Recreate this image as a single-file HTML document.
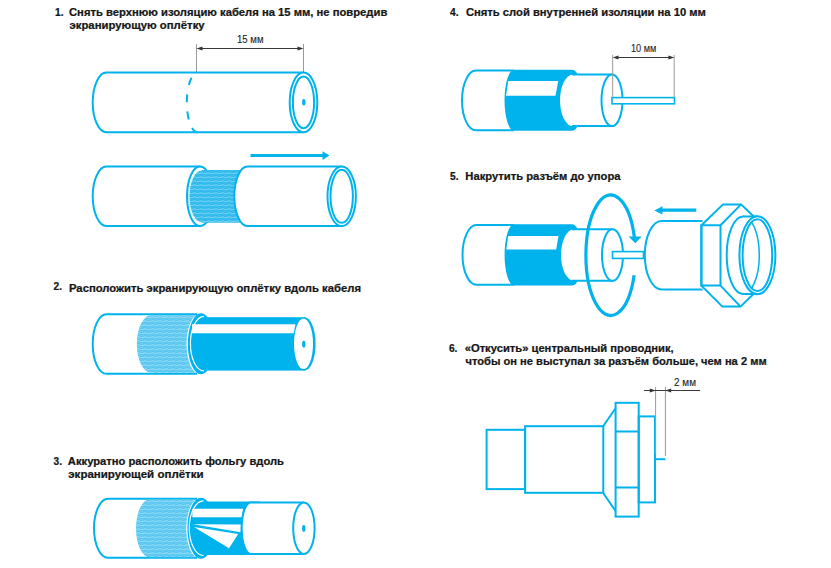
<!DOCTYPE html>
<html><head><meta charset="utf-8">
<style>
html,body{margin:0;padding:0;background:#fff;}
body{width:831px;height:568px;overflow:hidden;}
svg{display:block;}
.t{font-family:"Liberation Sans",sans-serif;font-weight:bold;font-size:10.2px;fill:#161616;stroke:#161616;stroke-width:0.22px;}
.d{font-family:"Liberation Sans",sans-serif;font-size:10.8px;fill:#222;stroke:#222;stroke-width:0.1px;}
.ext{stroke:#9a9a9a;stroke-width:1;fill:none;}
.c{fill:none;stroke:#00B3EC;stroke-width:2;}
.cf{fill:#fff;stroke:#00B3EC;stroke-width:2;}
.dim{stroke:#3a3a3a;stroke-width:1;fill:none;}
.ah{fill:#333;}
</style></head>
<body>
<svg width="831" height="568" viewBox="0 0 831 568">
<defs>
<pattern id="br" width="7" height="4" patternUnits="userSpaceOnUse">
<rect width="7" height="4" fill="#74d0f3"/>
<path d="M0 0.6 L7 1.6 M0 2.6 L7 3.4" stroke="#36bcee" stroke-width="0.7"/>
<path d="M0 1.8 L7 0.9" stroke="#b5e6f9" stroke-width="0.6"/>
</pattern>
<clipPath id="ring"><ellipse cx="757.4" cy="255.2" rx="14" ry="35.1"/></clipPath>
<pattern id="br1" width="7" height="4" patternUnits="userSpaceOnUse">
<rect width="7" height="4" fill="#45c0ee"/>
<path d="M0 0.6 L7 1.6 M0 2.6 L7 3.4" stroke="#12b1ea" stroke-width="0.7"/>
<path d="M0 1.8 L7 0.9" stroke="#a5e0f7" stroke-width="0.6"/>
</pattern>
</defs>

<!-- ============ SECTION 1 ============ -->
<text class="t" x="55.04" y="15.70">1.</text>
<text class="t" x="69.00" y="15.70" textLength="318.30" lengthAdjust="spacingAndGlyphs">Снять верхнюю изоляцию кабеля на 15 мм, не повредив</text>
<text class="t" x="69.50" y="29.30" textLength="135.12" lengthAdjust="spacingAndGlyphs">экранирующую оплётку</text>

<!-- dimension 15 mm -->
<path class="ext" d="M196.5 44 V72.5 M303.5 44 V72.5"/><path class="dim" d="M200 48.5 H300"/>
<path class="ah" d="M196.5 48.5 L202.5 46.6 L202.5 50.4 Z M303.5 48.5 L297.5 46.6 L297.5 50.4 Z"/>
<text class="d" x="237" y="42.7" textLength="26.6" lengthAdjust="spacingAndGlyphs">15 мм</text>

<!-- cable A -->
<path class="c" d="M303.5 72.6 H106.5 A13.8 29.8 0 0 0 106.5 132.2 H303.5"/>
<ellipse class="cf" cx="303.5" cy="102.4" rx="13.8" ry="29.8" stroke-width="1.8"/>
<ellipse class="c" cx="303.5" cy="102.4" rx="10.6" ry="25.8" stroke-width="1.8"/>
<ellipse cx="303.8" cy="102.3" rx="1.7" ry="3.3" fill="#00B3EC"/>
<path class="c" d="M197.5 72.6 A10.7 29.8 0 0 0 197.5 132.2" stroke-dasharray="7.9 9.3" stroke-dashoffset="9"/>

<!-- cable B -->
<path class="c" d="M200 166.6 H106.5 A13.8 29.75 0 0 0 106.5 226.1 H200"/>
<ellipse class="cf" cx="200" cy="196.35" rx="13" ry="29.75"/>
<path d="M202 170 H252 V222.8 H202 A13.7 26.4 0 0 1 202 170 Z" fill="url(#br1)"/>
<path d="M202 170 A13 26.4 0 0 0 202 222.8" fill="none" stroke="#fff" stroke-width="0.9"/>
<path class="cf" d="M341.7 166.6 H247.5 A13.2 29.75 0 0 0 247.5 226.1 H341.7"/>
<ellipse class="cf" cx="341.7" cy="196.35" rx="14.2" ry="29.75"/>
<ellipse class="c" cx="341.7" cy="196.35" rx="11.2" ry="26.5"/>
<path d="M250.5 154.1 H322.5 V151.3 L329.5 155.6 L322.5 160 V157.1 H250.5 Z" fill="#00B3EC"/>

<!-- ============ SECTION 2 ============ -->
<text class="t" x="53.58" y="289.70">2.</text>
<text class="t" x="69.00" y="291.50" textLength="291.96" lengthAdjust="spacingAndGlyphs">Расположить экранирующую оплётку вдоль кабеля</text>

<path class="cf" d="M197 314.2 H106.5 A13.8 29.8 0 0 0 106.5 373.8 H197"/>
<path d="M151 315.2 H196 A13.2 30 0 0 0 196 372.8 H151 A14.2 28.8 0 0 1 151 315.2 Z" fill="url(#br)"/>
<ellipse cx="201" cy="343.8" rx="13.2" ry="30.5" fill="#00B3EC"/>
<rect x="200" y="317.2" width="105" height="53.4" fill="#00B3EC"/>
<path d="M204 316.3 A13.6 27.3 0 0 0 204 370.9" fill="none" stroke="#fff" stroke-width="1.2"/>
<path d="M192 324.3 H295.5 L293.6 333.2 H192 Z" fill="#fff"/>
<ellipse cx="304.6" cy="343.9" rx="11" ry="26.7" fill="#00B3EC"/>
<ellipse cx="303.5" cy="343.8" rx="9.5" ry="25.3" fill="#fff"/>
<ellipse cx="303.8" cy="344.2" rx="1.7" ry="3.4" fill="#00B3EC"/>

<!-- ============ SECTION 3 ============ -->
<text class="t" x="53.58" y="464.90">3.</text>
<text class="t" x="67.84" y="464.90" textLength="216.16" lengthAdjust="spacingAndGlyphs">Аккуратно расположить фольгу вдоль</text>
<text class="t" x="68.28" y="477.60" textLength="135.34" lengthAdjust="spacingAndGlyphs">экранирующей оплётки</text>

<path class="cf" d="M197 498.8 H108 A14 29.5 0 0 0 108 557.8 H197"/>
<path d="M149.5 499.6 H196 A13.6 30 0 0 0 196 557.2 H149.5 A13.5 28.8 0 0 1 149.5 499.6 Z" fill="url(#br)"/>
<ellipse cx="201" cy="528.2" rx="13.6" ry="30.5" fill="#00B3EC"/>
<rect x="200" y="501.5" width="60" height="53.5" fill="#00B3EC"/>
<path d="M203.5 500.8 A14.2 27.4 0 0 0 203.5 555.6" fill="none" stroke="#fff" stroke-width="1.2"/>
<path d="M192.4 508.7 H243 L242 517.3 H192.4 Z" fill="#fff"/>
<path d="M193 524.2 L241 524.5 L240.5 532.2 Z" fill="#fff"/>
<path d="M194 527 L238.2 533.9 L229 548.2 Z" fill="#fff"/>
<path class="cf" d="M304 502.4 H250.7 A9 25.75 0 0 0 250.7 553.9 H304" />
<ellipse class="cf" cx="303.9" cy="528.15" rx="10.7" ry="25.75"/>
<ellipse cx="303.8" cy="528.4" rx="1.7" ry="3.4" fill="#00B3EC"/>

<!-- ============ SECTION 4 ============ -->
<text class="t" x="450.00" y="15.70">4.</text>
<text class="t" x="465.92" y="15.70" textLength="240.00" lengthAdjust="spacingAndGlyphs">Снять слой внутренней изоляции на 10 мм</text>

<path class="c" d="M514 70.6 H476 A14 29.85 0 0 0 476 130.3 H514"/>
<path d="M514 69.8 H572 A11 30.5 0 0 1 572 130.8 H514 A9.5 30.5 0 0 1 514 69.8 Z" fill="#00B3EC"/>
<path d="M508.2 81 H558.2 L555.5 95.8 H506.1 Z" fill="#fff"/>
<path d="M612 74.5 H573 A13 25.8 0 0 0 573 126.1 H612 Z" fill="#fff"/>
<path class="c" d="M572 74.5 H612 M572 126.1 H612"/>
<ellipse class="cf" cx="612" cy="100.3" rx="10.5" ry="25.8"/>
<rect x="612" y="97.6" width="62.5" height="6.2" fill="#fff" stroke="#00B3EC" stroke-width="1.6"/>
<path class="ext" d="M612.7 55 V97 M674.2 55 V97"/><path class="dim" d="M616 57.5 H671"/>
<path class="ah" d="M612.7 57.5 L618.5 55.6 L618.5 59.4 Z M674.2 57.5 L668.4 55.6 L668.4 59.4 Z"/>
<text class="d" x="631" y="51.8" textLength="25.3" lengthAdjust="spacingAndGlyphs">10 мм</text>

<!-- ============ SECTION 5 ============ -->
<text class="t" x="450.00" y="180.10">5.</text>
<text class="t" x="465.34" y="180.10" textLength="155.16" lengthAdjust="spacingAndGlyphs">Накрутить разъём до упора</text>

<path class="c" d="M514 225.1 H476.5 A14 29.8 0 0 0 476.5 284.7 H514"/>
<path d="M514 224.3 H572 A11 30.5 0 0 1 572 285.5 H514 A9.4 30.5 0 0 1 514 224.3 Z" fill="#00B3EC"/>
<path d="M508.2 236.1 H558.5 L556.2 249.5 H506.3 Z" fill="#fff"/>
<path d="M612.5 229.3 H574 A13 25.75 0 0 0 574 280.8 H612.5 Z" fill="#fff"/>
<path class="c" d="M572 229.3 H612.5 M572 280.8 H612.5"/>
<ellipse class="cf" cx="612.5" cy="255.05" rx="10.5" ry="25.75"/>
<rect x="612.5" y="251.6" width="31" height="6.8" fill="#fff" stroke="#00B3EC" stroke-width="1.6"/>

<!-- rotation arrow -->
<path d="M634.4 237.5 A24.8 60.3 0 1 0 634.1 275.2" fill="none" stroke="#00B3EC" stroke-width="3.2"/>
<path d="M628.6 236.6 L641.8 236.6 L635.3 243.3 Z" fill="#00B3EC"/>

<!-- connector -->
<path class="cf" d="M702.5 221 H661.5 A16.7 34.2 0 0 0 661.5 289.4 H702.5"/>
<path class="cf" d="M701.4 225.3 L723 204.4 L741.1 204.4 L754 216.7 V293.5 L740.5 306.6 L722.4 306.6 L701.4 285.6 Z"/>
<path class="c" d="M701.4 225.3 V285.6 H720.5 V225.3 Z M720.5 225.3 L741.1 204.4 M720.5 285.6 L740.5 306.6"/>
<ellipse class="cf" cx="743" cy="255.2" rx="16.3" ry="38.8"/>
<rect x="743" y="216.4" width="14.4" height="77.6" fill="#fff"/>
<path class="c" d="M743 216.4 H757.4 M743 294 H757.4"/>
<ellipse class="cf" cx="757.4" cy="255.2" rx="18" ry="39"/>
<ellipse class="c" cx="757.4" cy="255.2" rx="14.8" ry="35.9" stroke-width="1.5"/>
<path d="M743 216.4 A16.3 38.8 0 0 1 743 294" fill="none" stroke="#00B3EC" stroke-width="1.5" clip-path="url(#ring)"/>
<path d="M696.3 208.6 H662.4 V206.3 L654.3 210.4 L662.4 214.5 V211.8 H696.3 Z" fill="#00B3EC"/>

<!-- ============ SECTION 6 ============ -->
<text class="t" x="448.96" y="351.90">6.</text>
<text class="t" x="464.70" y="351.90" textLength="208.96" lengthAdjust="spacingAndGlyphs">«Откусить» центральный проводник,</text>
<text class="t" x="465.54" y="365.30" textLength="301.08" lengthAdjust="spacingAndGlyphs">чтобы он не выступал за разъём больше, чем на 2 мм</text>

<g class="c" stroke-width="2">
<rect x="486.6" y="429.8" width="38.5" height="59.3"/>
<rect x="525.1" y="426.2" width="78.2" height="66.6"/>
<path d="M603.3 426 L615.6 408.2 M603.3 493.3 L615.6 511"/>
<rect x="615.6" y="402.8" width="23.1" height="113.8"/>
<path d="M615.6 431.4 H638.7 M615.6 487.4 H638.7"/>
<rect x="638.7" y="416.4" width="16.3" height="86"/>
<path d="M655 459.2 H665.4"/>
</g>
<path class="ext" d="M655.6 386.9 V454.6 M665.4 386.9 V456"/><path class="dim" d="M644.1 390.5 H700.1"/>
<path class="ah" d="M655.6 390.5 L649.8 388.6 L649.8 392.4 Z M665.4 390.5 L671.2 388.6 L671.2 392.4 Z"/>
<text class="d" x="674.1" y="386.4" textLength="21.9" lengthAdjust="spacingAndGlyphs">2 мм</text>

</svg>
</body></html>
